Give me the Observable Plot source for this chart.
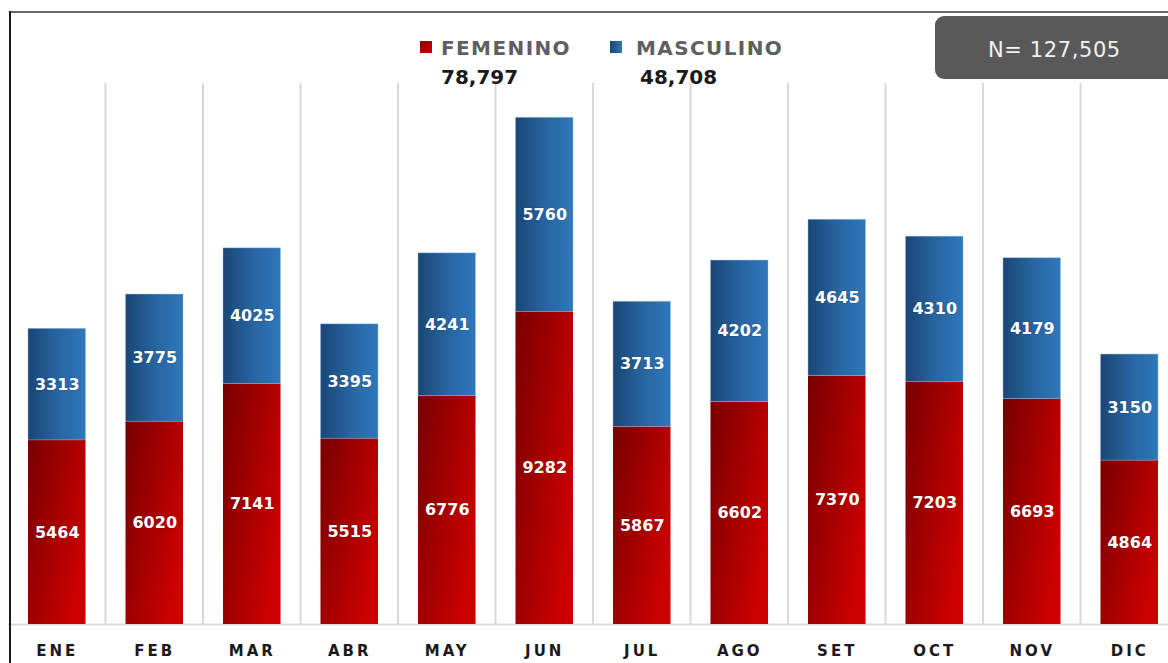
<!DOCTYPE html>
<html>
<head>
<meta charset="utf-8">
<script src="https://cdn.jsdelivr.net/npm/d3@7"></script>
<script src="https://cdn.jsdelivr.net/npm/@observablehq/plot@0.6"></script>
<style>
  html, body { margin: 0; padding: 0; background: #fff; overflow: hidden; }
  #wrap { position: relative; width: 1168px; height: 663px; overflow: hidden; font-family: "DejaVu Sans", sans-serif; }
  #chart { position: absolute; left: 0; top: 0; width: 1178px; height: 663px; }
  #chart svg { max-width: none !important; display: block; }
  #wrap > svg { position: absolute; left: 0; top: 0; }
  #chart svg [aria-label="x-axis tick label"] text { letter-spacing: 3px; }
  .frameTop { position: absolute; left: 10px; top: 11px; width: 1158px; height: 2px; background: #6b6b6b; }
  .frameLeft { position: absolute; left: 9px; top: 11px; width: 2px; height: 652px; background: #1a1a1a; }
</style>
</head>
<body>
<div id="wrap">
  <div id="chart"></div>
  <div class="frameTop"></div>
  <div class="frameLeft"></div>
</div>
<script>
const months = ["ENE","FEB","MAR","ABR","MAY","JUN","JUL","AGO","SET","OCT","NOV","DIC"];
const femenino = [5464, 6020, 7141, 5515, 6776, 9282, 5867, 6602, 7370, 7203, 6693, 4864];
const masculino = [3313, 3775, 4025, 3395, 4241, 5760, 3713, 4202, 4645, 4310, 4179, 3150];
const seriesNames = ["FEMENINO", "MASCULINO"];
const totalFem = "78,797";
const totalMasc = "48,708";
const totalN = "N= 127,505";

const rows = months.map((m, i) => ({month: m, f: femenino[i], m: masculino[i]}));

function gridMark() {
  return (index, scales, values, dimensions) => {
    const sx = scales.x, sy = scales.y;
    const step = typeof sx.step === "function" ? sx.step() : scales.scales.x.step;
    const bw = typeof sx.bandwidth === "function" ? sx.bandwidth() : scales.scales.x.bandwidth;
    const g = d3.create("svg:g").attr("aria-label", "grid");
    const top = dimensions.marginTop - 2;
    const bottom = sy(0);
    months.slice(1).forEach(mo => {
      const px = sx(mo) - (step - bw) / 2;
      g.append("line").attr("x1", px).attr("x2", px).attr("y1", top).attr("y2", bottom)
        .attr("stroke", "#d9d9d9").attr("stroke-width", 2);
    });
    return g.node();
  };
}

const plot = Plot.plot({
  width: 1178,
  height: 663,
  marginLeft: 8,
  marginRight: 0,
  marginTop: 85,
  marginBottom: 39,
  style: {fontFamily: "DejaVu Sans, sans-serif", background: "transparent"},
  x: {domain: months, paddingInner: 0.41, paddingOuter: 0.205, round: false, label: null},
  y: {domain: [0, 16000], axis: null},
  marks: [
    gridMark(),
    Plot.ruleY([0], {stroke: "#d9d9d9", strokeWidth: 2}),
    Plot.barY(rows, {x: "month", y1: 0, y2: "f", fill: "url(#gradF)"}),
    Plot.barY(rows, {x: "month", y1: "f", y2: d => d.f + d.m, fill: "url(#gradM)", stroke: "#9cc3e6", strokeWidth: 0.6, strokeOpacity: 0.7}),
    Plot.text(rows, {x: "month", y: d => d.f / 2, text: d => String(d.f), fill: "white", fontSize: 16, fontWeight: "bold", stroke: "#3a0000", strokeWidth: 1.2, strokeOpacity: 0.25, paintOrder: "stroke"}),
    Plot.text(rows, {x: "month", y: d => d.f + d.m / 2, text: d => String(d.m), fill: "white", fontSize: 16, fontWeight: "bold", stroke: "#0d2a48", strokeWidth: 1.2, strokeOpacity: 0.25, paintOrder: "stroke"}),
    Plot.axisX({tickSize: 0, tickPadding: 21, fontSize: 15, fontWeight: "bold", fill: "#1a1a1a", label: null})
  ]
});

const svg = d3.select(plot);
const defs = svg.insert("defs", ":first-child");
const gF = defs.append("linearGradient").attr("id", "gradF").attr("x1", 0).attr("y1", 0).attr("x2", 1).attr("y2", 0.6);
gF.append("stop").attr("offset", "0%").attr("stop-color", "#780000");
gF.append("stop").attr("offset", "100%").attr("stop-color", "#cc0000");
const gM = defs.append("linearGradient").attr("id", "gradM").attr("x1", 0).attr("y1", 0).attr("x2", 1).attr("y2", 0);
gM.append("stop").attr("offset", "0%").attr("stop-color", "#1a4675");
gM.append("stop").attr("offset", "55%").attr("stop-color", "#2866a3");
gM.append("stop").attr("offset", "100%").attr("stop-color", "#2e78bb");
svg.selectAll('[aria-label="x-axis tick label"] text').attr("font-weight", "bold");

document.getElementById("chart").appendChild(plot);

// Header overlay: legend with totals and N box
const head = d3.select("#wrap").append("svg")
  .attr("width", 1168).attr("height", 100)
  .style("font-family", "DejaVu Sans, sans-serif");
const hdefs = head.append("defs");
const lF = hdefs.append("linearGradient").attr("id", "legF").attr("x1", 0).attr("y1", 0).attr("x2", 1).attr("y2", 1);
lF.append("stop").attr("offset", "0%").attr("stop-color", "#8a0000");
lF.append("stop").attr("offset", "100%").attr("stop-color", "#cc0000");
const lM = hdefs.append("linearGradient").attr("id", "legM").attr("x1", 0).attr("y1", 0).attr("x2", 1).attr("y2", 0);
lM.append("stop").attr("offset", "0%").attr("stop-color", "#1a4675");
lM.append("stop").attr("offset", "100%").attr("stop-color", "#2e78bb");

const legend = [
  {name: seriesNames[0], total: totalFem, sw: 420, tx: 441, vx: 441, fill: "url(#legF)"},
  {name: seriesNames[1], total: totalMasc, sw: 610, tx: 636, vx: 640, fill: "url(#legM)"}
];
legend.forEach(l => {
  head.append("rect").attr("x", l.sw).attr("y", 41).attr("width", 12).attr("height", 12).attr("fill", l.fill);
  head.append("text").attr("x", l.tx).attr("y", 55).attr("font-size", 20).attr("font-weight", "bold")
    .attr("fill", "#5f5f5f").style("letter-spacing", "1.4px").text(l.name);
  head.append("text").attr("x", l.vx).attr("y", 84).attr("font-size", 20).attr("font-weight", "bold")
    .attr("fill", "#1a1a1a").text(l.total);
});
head.append("rect").attr("x", 935).attr("y", 16).attr("width", 260).attr("height", 63).attr("rx", 9).attr("fill", "#595959");
head.append("text").attr("x", 988).attr("y", 57).attr("font-size", 21).attr("fill", "#f2f2f2")
  .style("letter-spacing", "0.6px").text(totalN);
</script>
</body>
</html>
